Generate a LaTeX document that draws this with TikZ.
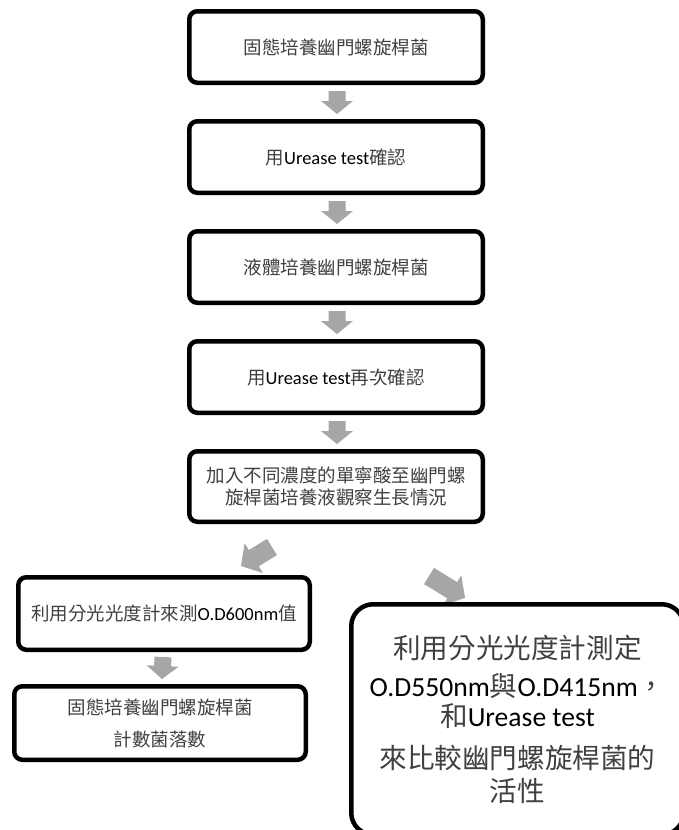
\documentclass[tikz,border=0pt]{standalone}
\usepackage{fontspec}
\setmainfont{Carlito}
\newfontfamily\cjk{Noto Sans CJK TC}
\usetikzlibrary{calc,backgrounds}
\definecolor{arrowgray}{HTML}{A6A6A6}
\definecolor{cjkgray}{HTML}{404040}
\newcommand\zh[1]{{\cjk\color{cjkgray}#1}}
% block arrow: start, end, shaft half width, head half width, head length
\newcommand\blockarrow[5]{%
  \coordinate (#1-h) at ($(#2)!#5!(#1)$);
  \fill[arrowgray] ($(#1)!#3!90:(#2)$) -- ($(#1-h)!#3!-90:(#1)$) -- ($(#1-h)!#4!-90:(#1)$) -- (#2)
    -- ($(#1-h)!#4!90:(#1)$) -- ($(#1-h)!#3!90:(#1)$) -- ($(#1)!#3!-90:(#2)$) -- cycle;}
\tikzset{
  box/.style={draw=black, line width=4.5pt, rounded corners=8pt, inner sep=0pt,
    minimum width=293.5pt, minimum height=71.5pt, align=center,
    font=\fontsize{18.5}{21.5}\selectfont},
  bigbox/.style={draw=black, line width=4.5pt, rounded corners=22pt, inner sep=0pt,
    minimum width=332.5pt, minimum height=230.5pt, align=center,
    font=\fontsize{27.6}{28}\selectfont}
}
\begin{document}
\begin{tikzpicture}[x=1pt,y=-1pt]
\useasboundingbox (0,0) rectangle (679,830);
\clip (0,0) rectangle (679,830);
\node[box] (b1) at (336,47) {\zh{固態培養幽門螺旋桿菌}};
\node[box] (b2) at (336,157) {\zh{用}Urease test\zh{確認}};
\node[box] (b3) at (336,267) {\zh{液體培養幽門螺旋桿菌}};
\node[box] (b4) at (336,377) {\zh{用}Urease test\zh{再次確認}};
\node[box, minimum height=70.5pt] (b5) at (336,486.5) {\zh{加入不同濃度的單寧酸至幽門螺}\\\zh{旋桿菌培養液觀察生長情況}};
\node[box, minimum width=291.5pt, minimum height=72.5pt] (l1) at (164,613.5) {\zh{利用分光光度計來測}O.D600nm\zh{值}};
\node[box, minimum width=291.5pt, minimum height=73.5pt, font=\fontsize{18.5}{32}\selectfont] (l2) at (160,723) {\zh{固態培養幽門螺旋桿菌}\\\zh{計數菌落數}};
\node[bigbox] (r) at (517.5,719.5) {\zh{利用分光光度計測定}\\[10pt]O.D550nm\zh{與}O.D415nm\zh{，}\\[2pt]\zh{和}Urease test\\[14pt]\zh{來比較幽門螺旋桿菌的}\\[5pt]\zh{活性}};
\begin{scope}[on background layer]
\coordinate (a1s) at ($(b1.south)+(1,6)$);
\coordinate (a1e) at ($(b2.north)+(1,-5)$);
\blockarrow{a1s}{a1e}{8.5pt}{16pt}{13pt}
\coordinate (a2s) at ($(b2.south)+(1,6)$);
\coordinate (a2e) at ($(b3.north)+(1,-5)$);
\blockarrow{a2s}{a2e}{8.5pt}{16pt}{13pt}
\coordinate (a3s) at ($(b3.south)+(1,6)$);
\coordinate (a3e) at ($(b4.north)+(1,-5)$);
\blockarrow{a3s}{a3e}{8.5pt}{16pt}{13pt}
\coordinate (a4s) at ($(b4.south)+(1,6)$);
\coordinate (a4e) at ($(b5.north)+(1,-5)$);
\blockarrow{a4s}{a4e}{8.5pt}{16pt}{13pt}
\coordinate (a5s) at ($(b5.south)+(-64,23)$);
\coordinate (a5e) at ($(l1.north)+(77,-9)$);
\blockarrow{a5s}{a5e}{9.5pt}{17.5pt}{15pt}
\coordinate (a6s) at ($(b5.south)+(93,52)$);
\coordinate (a6e) at ($(r.north)+(-52.5,-4)$);
\blockarrow{a6s}{a6e}{9.5pt}{17.5pt}{15pt}
\coordinate (a7s) at ($(l1.south)+(-1,5)$);
\coordinate (a7e) at ($(l2.north)+(2,-5)$);
\blockarrow{a7s}{a7e}{8.5pt}{16pt}{13pt}
\end{scope}
\end{tikzpicture}
\end{document}
